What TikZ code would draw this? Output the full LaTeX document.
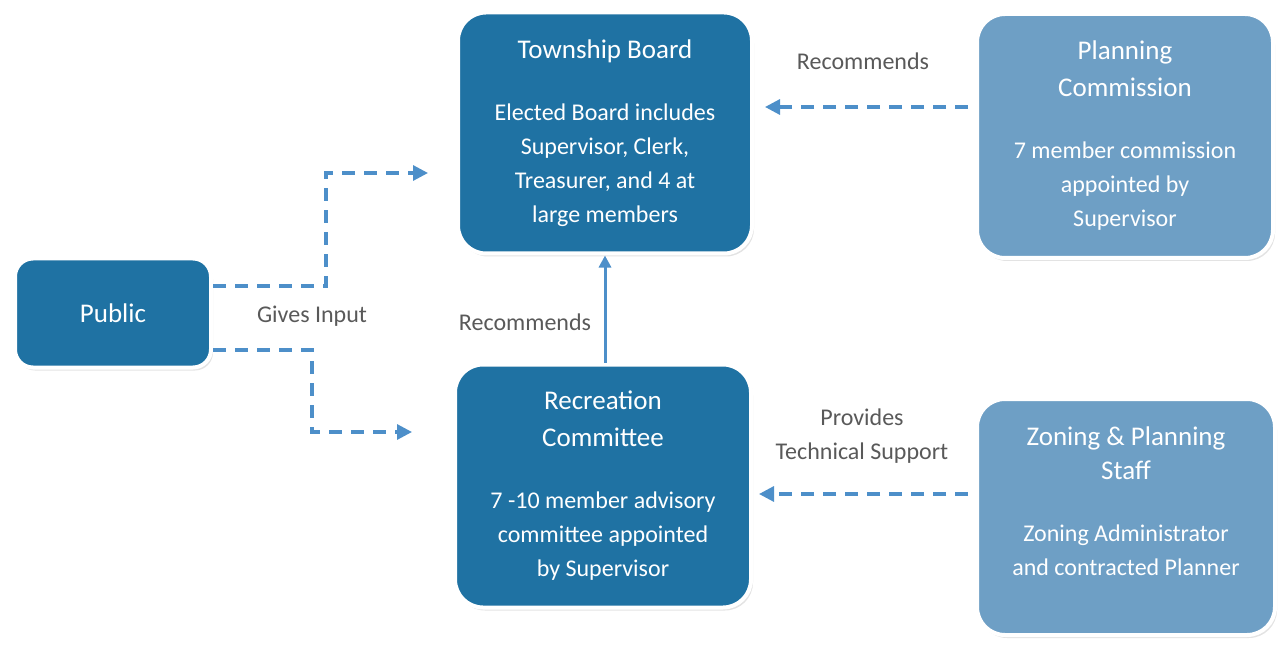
\documentclass[tikz,border=0pt]{standalone}
\usepackage{fontspec}
\setmainfont{Carlito}
\usetikzlibrary{arrows.meta, positioning, shadows}

\definecolor{boardblue}{HTML}{1F72A3}
\definecolor{staffblue}{HTML}{6E9FC5}
\definecolor{linkblue}{HTML}{4D8FC9}
\definecolor{labelgray}{HTML}{595959}

\tikzset{
  box/.style={draw=white, line width=4pt, rounded corners=28pt, text=white, align=center,
    font=\fontsize{24}{34}\selectfont,
    drop shadow={shadow xshift=2pt, shadow yshift=-3pt, fill=black!22}},
  boardbox/.style={box, fill=boardblue},
  staffbox/.style={box, fill=staffblue},
  boxtext/.style={text=white, align=center, font=\fontsize{24}{34}\selectfont},
  linklabel/.style={text=labelgray, align=center, font=\fontsize{24}{34}\selectfont},
  dasharrow/.style={draw=linkblue, line width=3.2pt, dash pattern=on 13pt off 9pt,
    -{Triangle[length=15pt, width=15pt]}},
  solidarrow/.style={draw=linkblue, line width=3pt, -{Triangle[length=12pt, width=12pt]}}
}

\newcommand{\boxtitle}[1]{{\fontsize{27}{36}\selectfont #1}}

\begin{document}
\begin{tikzpicture}[x=1pt, y=-1pt]
	\useasboundingbox (0,0) rectangle (1280,647);
	% boxes
	\node (tsb) at (605,133) [boardbox, minimum width=294pt, minimum height=241pt]
		{\boxtitle{Township Board}\\[28pt]Elected Board includes\\Supervisor, Clerk,\\Treasurer, and 4 at\\large members};
	\node (pln) at (1125,136) [staffbox, minimum width=296pt, minimum height=244pt]
		{\boxtitle{Planning}\\[3pt]\boxtitle{Commission}\\[28pt]7 member commission\\appointed by\\Supervisor};
	\node (pub) at (113,313) [boardbox, rounded corners=18pt, minimum width=196pt, minimum height=109pt, font=\fontsize{27}{34}\selectfont] {Public};
	\node (rec) at (603,486) [boardbox, minimum width=296pt, minimum height=243pt]
		{\boxtitle{Recreation}\\[3pt]\boxtitle{Committee}\\[28pt]7 -10 member advisory\\committee appointed\\by Supervisor};
	\node (zps) at (1126,517) [staffbox, minimum width=298pt, minimum height=236pt] {};
	\node (zpstext) at ([yshift=16pt]zps.center) [boxtext]
		{\boxtitle{Zoning \& Planning}\\\boxtitle{Staff}\\[28pt]Zoning Administrator\\and contracted Planner};
	% connectors
	\draw [dasharrow] ([yshift=27pt]pub.east) -- ++(113pt,0) |- ([xshift=-28pt, yshift=-40pt]tsb.west);
	\draw [dasharrow] ([yshift=-37pt]pub.east) -- ++(99pt,0) |- ([xshift=-41pt, yshift=54pt]rec.west);
	\draw [dasharrow, shorten <=7pt, shorten >=11pt] ([yshift=29pt]pln.west) -- ([yshift=26pt]tsb.east);
	\draw [dasharrow, shorten <=7pt, shorten >=6pt] ([yshift=23pt]zps.west) -- ([yshift=-8pt]rec.east);
	\draw [solidarrow] (rec.north -| tsb.south) -- (tsb.south);
	% labels
	\node (lblrecpln) at (863,61) [linklabel] {Recommends};
	\node (lblinput) at (312,316) [linklabel] {Gives Input};
	\node (lblrecrec) at (525,322) [linklabel] {Recommends};
	\node (lblsupport) at (862,436) [linklabel] {Provides\\Technical Support};
\end{tikzpicture}
\end{document}
